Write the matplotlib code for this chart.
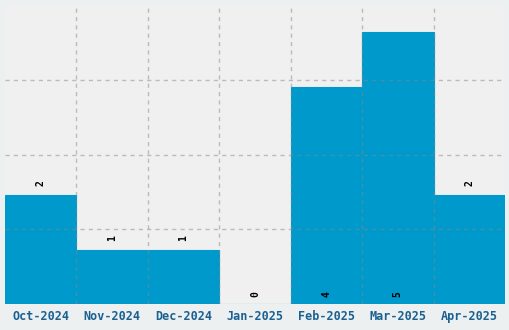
import numpy as np
import matplotlib.pyplot as plt

months = ["Oct-2024", "Nov-2024", "Dec-2024", "Jan-2025", "Feb-2025", "Mar-2025", "Apr-2025"]
counts = [2, 1, 1, 0, 4, 5, 2]
# labels that sit at the foot of the bar instead of above it
label_at_bottom = [False, False, False, True, True, True, False]

fig = plt.figure(figsize=(5.1, 3.3), dpi=100, facecolor="#ecf0f1")
ax = fig.add_axes([5 / 510, 26 / 330, 500 / 510, 299 / 330])
ax.set_facecolor("#f0f0f0")

x = np.arange(len(months))
ax.bar(x, counts, width=1.0, color="#0099cc", edgecolor="#0099cc", linewidth=0.8, zorder=2)
ax.set_xlim(-0.5, len(months) - 0.5)
ax.set_ylim(0, 5.5)

ax.set_xticks(x)
ax.set_xticklabels(months, fontsize=8.5, fontweight="bold", family="DejaVu Sans Mono", color="#1a6090")
ax.set_xticks(np.arange(0.5, len(months) - 0.5), minor=True)
ax.set_yticks(np.linspace(0, 5.5, 5)[1:-1])
ax.set_yticklabels([])
ax.tick_params(axis="both", which="both", length=0, pad=4)
ax.grid(False)
ax.grid(True, which="minor", axis="x", color="#888888", alpha=0.5, linestyle=(0, (3, 3)), linewidth=1, zorder=3)
ax.grid(True, which="major", axis="y", color="#888888", alpha=0.5, linestyle=(0, (3, 3)), linewidth=1, zorder=3)
ax.set_axisbelow(False)
for s in ax.spines.values():
    s.set_visible(False)

for xi, c, bot in zip(x, counts, label_at_bottom):
    y = 0.18 if bot else c + 0.22
    ax.text(xi, y, str(c), rotation=90, ha="center", va="center",
            fontsize=7, fontweight="bold", family="DejaVu Sans Mono", color="black", zorder=4)

fig.savefig("out.png", dpi=100, facecolor=fig.get_facecolor())
